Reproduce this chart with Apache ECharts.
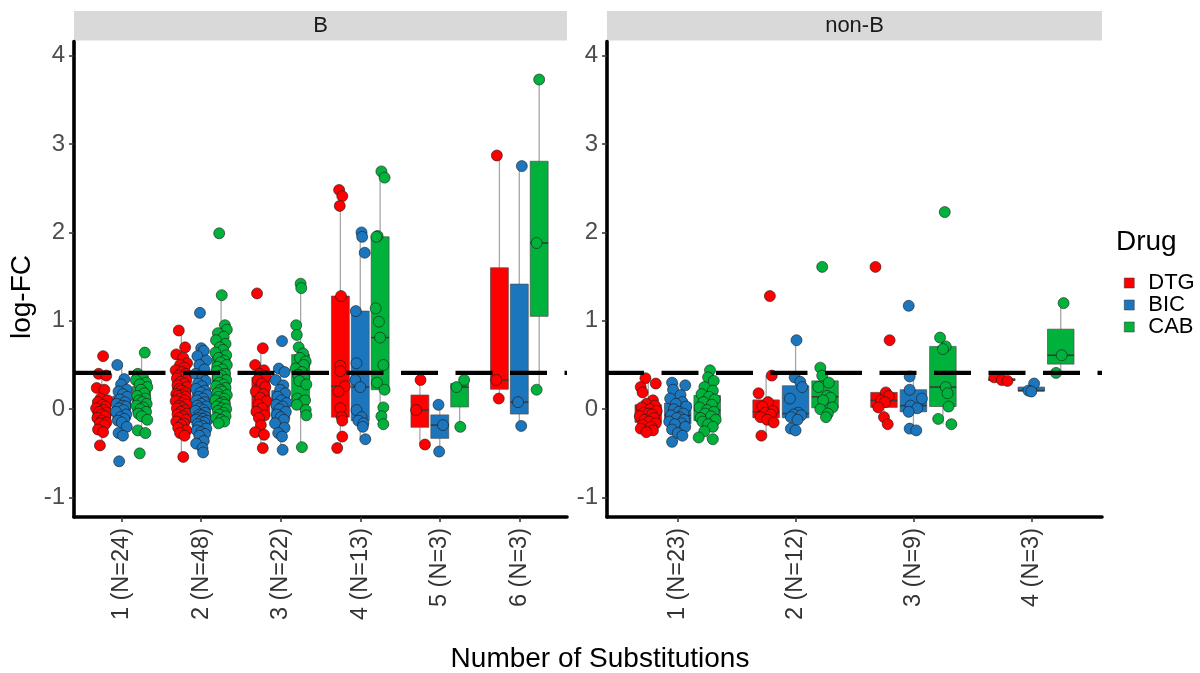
<!DOCTYPE html>
<html>
<head>
<meta charset="utf-8">
<script src="https://cdn.jsdelivr.net/npm/echarts@6.0.0/dist/echarts.min.js"></script>
<style>
html,body{margin:0;padding:0;background:#fff;}
#chart{width:1200px;height:673px;}
</style>
</head>
<body>
<div id="chart"></div>
<script>
// ---------------- data ----------------
const DRUGS = ['DTG', 'BIC', 'CAB'];
const COLORS = ['#FF0000', '#1C76BE', '#00B23C'];
const FACETS = ['B', 'non-B'];
const B_LABELS = ['1 (N=24)', '2 (N=48)', '3 (N=22)', '4 (N=13)', '5 (N=3)', '6 (N=3)'];
const NB_LABELS = ['1 (N=23)', '2 (N=12)', '3 (N=9)', '4 (N=3)'];
const Y_TICKS = [-1, 0, 1, 2, 3, 4];
const THRESHOLD = 0.41;
const X_TITLE = 'Number of Substitutions';
const Y_TITLE = 'log-FC';
const LEGEND_TITLE = 'Drug';

// log-FC values, facet B, per category
const BV_DTG = [
  [0.60,0.40,0.38,0.24,0.22,0.12,0.10,0.08,0.05,0.03,0.01,-0.01,-0.03,-0.04,-0.06,-0.08,-0.10,-0.13,-0.15,-0.16,-0.18,-0.23,-0.26,-0.41],
  [0.89,0.70,0.62,0.58,0.52,0.50,0.47,0.44,0.42,0.40,0.38,0.36,0.35,0.33,0.31,0.29,0.27,0.25,0.23,0.21,0.19,0.17,0.16,0.15,0.14,0.12,0.10,0.09,0.07,0.05,0.04,0.02,0.01,-0.01,-0.03,-0.05,-0.06,-0.08,-0.10,-0.12,-0.14,-0.16,-0.18,-0.21,-0.24,-0.27,-0.30,-0.54],
  [1.31,0.69,0.50,0.44,0.40,0.37,0.33,0.29,0.25,0.20,0.17,0.13,0.09,0.05,0.01,-0.03,-0.07,-0.10,-0.18,-0.26,-0.29,-0.44],
  [2.48,2.41,2.30,1.28,0.49,0.43,0.26,0.20,0.01,-0.09,-0.13,-0.31,-0.44],
  [0.33,-0.01,-0.40],
  [2.87,0.33,0.12]
];
const BV_BIC = [
  [0.50,0.34,0.28,0.22,0.20,0.17,0.14,0.11,0.08,0.06,0.04,0.03,0.01,-0.01,-0.03,-0.06,-0.09,-0.11,-0.13,-0.15,-0.20,-0.27,-0.30,-0.59],
  [1.09,0.69,0.66,0.60,0.55,0.50,0.45,0.40,0.36,0.32,0.29,0.26,0.23,0.21,0.19,0.16,0.14,0.12,0.10,0.08,0.06,0.04,0.03,0.01,-0.01,-0.02,-0.04,-0.06,-0.07,-0.09,-0.10,-0.11,-0.12,-0.13,-0.14,-0.15,-0.17,-0.19,-0.20,-0.22,-0.24,-0.26,-0.28,-0.30,-0.36,-0.39,-0.44,-0.49],
  [0.77,0.46,0.42,0.33,0.27,0.22,0.18,0.14,0.10,0.07,0.05,0.03,0.00,-0.03,-0.06,-0.09,-0.12,-0.16,-0.21,-0.27,-0.31,-0.46],
  [2.00,1.95,1.77,1.11,0.52,0.33,0.25,-0.01,-0.09,-0.13,-0.16,-0.20,-0.34],
  [0.05,-0.18,-0.48],
  [2.75,0.08,-0.19]
];
const BV_CAB = [
  [0.64,0.40,0.36,0.33,0.30,0.28,0.25,0.22,0.18,0.15,0.12,0.10,0.08,0.06,0.04,0.02,0.00,-0.03,-0.05,-0.08,-0.12,-0.24,-0.27,-0.50],
  [1.99,1.29,0.95,0.90,0.86,0.82,0.78,0.74,0.70,0.67,0.64,0.61,0.58,0.55,0.53,0.50,0.48,0.45,0.43,0.40,0.38,0.36,0.33,0.30,0.28,0.26,0.24,0.22,0.20,0.18,0.16,0.14,0.12,0.10,0.08,0.06,0.05,0.03,0.01,0.00,-0.02,-0.04,-0.06,-0.08,-0.10,-0.12,-0.14,-0.16],
  [1.42,1.37,0.95,0.84,0.70,0.63,0.58,0.54,0.50,0.46,0.42,0.39,0.36,0.32,0.28,0.12,0.08,0.10,0.05,-0.01,-0.07,-0.43],
  [2.69,2.62,1.96,1.95,1.14,0.99,0.81,0.50,0.30,0.22,0.02,-0.08,-0.17],
  [0.33,0.25,-0.20],
  [3.73,1.88,0.22]
];
// log-FC values, facet non-B, per category
const NV_DTG = [
  [0.35,0.29,0.25,0.19,0.10,0.06,0.04,0.02,0.00,-0.02,-0.04,-0.05,-0.06,-0.08,-0.10,-0.12,-0.14,-0.16,-0.18,-0.20,-0.22,-0.24,-0.26],
  [1.28,0.38,0.18,0.08,0.03,-0.02,-0.04,-0.06,-0.09,-0.12,-0.15,-0.30],
  [1.61,0.78,0.19,0.15,0.10,0.08,0.02,-0.09,-0.17],
  [0.36,0.33,0.32]
];
const NV_BIC = [
  [0.30,0.27,0.22,0.16,0.12,0.08,0.06,0.03,0.00,-0.03,-0.05,-0.07,-0.09,-0.10,-0.12,-0.14,-0.16,-0.17,-0.20,-0.23,-0.27,-0.30,-0.37],
  [0.78,0.36,0.31,0.25,0.12,-0.04,-0.06,-0.07,-0.09,-0.12,-0.22,-0.24],
  [1.17,0.37,0.22,0.12,0.04,0.01,-0.03,-0.22,-0.24],
  [0.29,0.21,0.20]
];
const NV_CAB = [
  [0.44,0.36,0.32,0.25,0.21,0.17,0.14,0.11,0.08,0.05,0.02,-0.01,-0.03,-0.05,-0.08,-0.10,-0.12,-0.14,-0.17,-0.20,-0.25,-0.32,-0.34],
  [1.61,0.47,0.38,0.30,0.25,0.15,0.13,0.10,0.02,0.00,-0.05,-0.09],
  [2.23,0.81,0.71,0.68,0.25,0.18,0.03,-0.11,-0.17],
  [1.20,0.61,0.41]
];

// horizontal jitter of each point (fraction of the jitter half-width)
const BJ_DTG = [
  [0.2,-0.5,0.7,-0.8,0.4,-0.2,0.9,-0.6,0.1,0.6,-0.9,0.3,-0.4,0.8,-0.1,0.5,-0.7,0.0,0.7,-0.3,0.4,-0.6,0.2,-0.3],
  [-0.4,0.6,-0.8,0.3,0.9,-0.2,0.5,-0.9,0.1,0.7,-0.5,0.2,-0.7,0.8,-0.1,0.4,-0.6,0.9,-0.3,0.0,0.6,-0.8,0.3,-0.5,0.7,-0.2,0.5,-0.9,0.2,0.8,-0.4,0.1,-0.7,0.6,-0.1,0.9,-0.6,0.3,-0.3,0.7,-0.8,0.4,0.0,-0.5,0.8,-0.2,0.5,0.3],
  [-0.6,0.3,-0.9,0.5,-0.2,0.8,-0.5,0.1,0.7,-0.8,0.4,-0.1,0.9,-0.4,0.2,-0.7,0.6,-0.3,0.0,-0.9,0.5,0.3],
  [-0.2,0.3,-0.1,0.1,0.0,0.0,0.7,-0.3,0.0,0.2,0.3,0.3,-0.5],
  [0.1,-0.6,0.8],
  [-0.4,-0.5,-0.1]
];
const BJ_BIC = [
  [-0.7,0.4,-0.1,0.8,-0.5,0.2,0.9,-0.3,0.5,-0.8,0.1,0.6,-0.4,0.3,-0.9,0.7,-0.2,0.4,-0.6,0.0,0.8,-0.5,0.2,-0.4],
  [-0.2,0.0,0.4,-0.6,0.8,-0.3,0.5,-0.9,0.2,0.7,-0.5,0.1,-0.8,0.6,-0.1,0.9,-0.4,0.3,-0.7,0.5,0.0,-0.6,0.8,-0.2,0.4,-0.9,0.6,-0.3,0.1,0.7,-0.5,0.3,-0.8,0.9,-0.1,0.5,-0.6,0.2,-0.4,0.8,-0.7,0.0,0.6,-0.3,0.4,-0.8,0.2,0.3],
  [0.2,-0.3,0.6,-0.8,0.4,-0.1,0.7,-0.5,0.1,0.9,-0.7,0.3,-0.2,0.8,-0.6,0.0,0.5,-0.9,0.6,-0.4,0.2,0.3],
  [0.2,0.3,0.7,-0.7,-0.6,-0.8,0.0,-0.6,0.2,-0.3,0.5,0.4,0.8],
  [-0.2,0.5,-0.1],
  [0.4,-0.2,0.3]
];
const BJ_CAB = [
  [0.5,-0.6,0.2,-0.9,0.7,-0.3,0.9,-0.1,0.4,-0.7,0.6,-0.4,0.1,0.8,-0.8,0.3,-0.2,0.7,-0.5,0.0,0.9,-0.6,0.6,-0.3],
  [-0.3,0.1,0.6,0.9,-0.5,0.4,-0.8,0.7,-0.2,0.3,-0.9,0.8,-0.4,0.5,-0.1,0.9,-0.6,0.2,-0.7,0.6,0.0,-0.5,0.8,-0.3,0.4,-0.8,0.7,-0.1,0.2,-0.6,0.9,-0.4,0.5,-0.9,0.3,-0.2,0.6,-0.7,0.1,0.8,-0.5,0.4,-0.3,0.7,-0.8,0.0,0.5,-0.4],
  [0.0,0.1,-0.7,-0.6,-0.3,0.4,-0.1,0.8,0.5,-0.8,0.2,-0.4,0.6,-0.2,0.9,-0.5,0.3,0.7,-0.6,0.8,0.9,0.2],
  [0.2,0.7,-0.4,-0.6,-0.7,-0.2,0.0,0.5,-0.5,0.7,0.5,0.2,0.5],
  [0.7,-0.5,0.1],
  [0.0,-0.4,-0.4]
];
const NJ_DTG = [
  [-0.3,0.8,-0.8,-0.6,0.5,-0.2,0.7,-0.7,0.2,0.9,-0.5,0.0,0.4,-0.9,0.6,-0.4,0.1,0.8,-0.6,0.3,-0.8,0.5,-0.2],
  [0.4,0.6,-0.8,0.2,-0.4,0.7,-0.1,0.5,-0.6,0.1,0.8,-0.5],
  [-0.9,0.6,0.2,0.5,-0.3,0.1,-0.6,0.0,0.4],
  [-0.8,0.0,0.6]
];
const NJ_BIC = [
  [-0.6,0.8,-0.5,0.3,-0.8,0.5,-0.2,0.9,-0.4,0.1,0.6,-0.7,0.2,-0.1,0.7,-0.9,0.4,-0.3,0.8,-0.6,0.0,0.5,-0.6],
  [0.1,-0.1,0.5,0.7,-0.6,0.3,-0.2,0.6,-0.5,0.2,-0.5,0.0],
  [-0.5,-0.4,-0.4,0.9,-0.3,0.4,-0.5,-0.4,0.3],
  [0.3,-0.3,0.0]
];
const NJ_CAB = [
  [0.3,0.1,0.7,-0.3,0.6,-0.6,0.2,0.8,-0.4,0.5,-0.8,0.0,0.7,-0.2,0.4,-0.7,0.9,-0.5,0.1,0.6,-0.3,-0.9,0.6],
  [-0.3,-0.5,-0.3,0.4,-0.7,0.2,0.6,-0.2,0.8,-0.5,0.3,0.1],
  [0.2,-0.3,0.3,0.0,0.3,0.5,0.6,-0.5,0.9],
  [0.3,0.1,-0.5]
];

// ---------------- layout / style ----------------
const FONT = '"Liberation Sans", Arial, sans-serif';
const Y_MIN = -1.22, Y_MAX = 4.16;
const DODGE = [-0.25, 0, 0.25];
const BOX_W = 0.225;
const JIT = 0.08;
const GRIDS = [
  {left: 74, top: 41.5, width: 493, height: 475.5},
  {left: 607, top: 41.5, width: 495, height: 475.5}
];
const PANELS = [
  {labels: B_LABELS, values: [BV_DTG, BV_BIC, BV_CAB], jitter: [BJ_DTG, BJ_BIC, BJ_CAB]},
  {labels: NB_LABELS, values: [NV_DTG, NV_BIC, NV_CAB], jitter: [NJ_DTG, NJ_BIC, NJ_CAB]}
];

function quantile(s, p) {
  const h = (s.length - 1) * p, lo = Math.floor(h), hi = Math.ceil(h);
  return s[lo] + (h - lo) * (s[hi] - s[lo]);
}
function boxStats(vals) {
  const s = vals.slice().sort((a, b) => a - b);
  const q1 = quantile(s, 0.25), med = quantile(s, 0.5), q3 = quantile(s, 0.75);
  const iqr = q3 - q1;
  const lo = s.find(v => v >= q1 - 1.5 * iqr);
  const hi = s.slice().reverse().find(v => v <= q3 + 1.5 * iqr);
  return [lo, q1, med, q3, hi];
}

function makeBoxRender(color) {
  return function (params, api) {
    const x = api.value(0);
    const lo = api.value(1), q1 = api.value(2), med = api.value(3), q3 = api.value(4), hi = api.value(5);
    const hw = BOX_W / 2;
    const tl = api.coord([x - hw, q3]);
    const br = api.coord([x + hw, q1]);
    const cHi = api.coord([x, hi]), cQ3 = api.coord([x, q3]);
    const cLo = api.coord([x, lo]), cQ1 = api.coord([x, q1]);
    const mL = api.coord([x - hw, med]), mR = api.coord([x + hw, med]);
    return {
      type: 'group',
      children: [
        {type: 'line', shape: {x1: cHi[0], y1: cHi[1], x2: cQ3[0], y2: cQ3[1]}, style: {stroke: '#A6A6A6', lineWidth: 1.3}},
        {type: 'line', shape: {x1: cLo[0], y1: cLo[1], x2: cQ1[0], y2: cQ1[1]}, style: {stroke: '#A6A6A6', lineWidth: 1.3}},
        {type: 'rect', shape: {x: tl[0], y: tl[1], width: br[0] - tl[0], height: Math.max(br[1] - tl[1], 0.5)},
          style: {fill: color, stroke: '#4D4D4D', lineWidth: 0.7}},
        {type: 'line', shape: {x1: mL[0], y1: mL[1], x2: mR[0], y2: mR[1]}, style: {stroke: '#3A3A3A', lineWidth: 1.6}}
      ]
    };
  };
}

const xAxes = [], yAxes = [], series = [];
PANELS.forEach((panel, p) => {
  const n = panel.labels.length;
  const cats = panel.labels.map((_, i) => i + 1);
  xAxes.push({
    gridIndex: p, type: 'value', min: 0.4, max: n + 0.6,
    axisLine: {show: true, onZero: false, lineStyle: {color: '#000', width: 3.6}},
    axisTick: {show: true, customValues: cats, length: 5, lineStyle: {color: '#333', width: 1.5}},
    axisLabel: {customValues: cats, formatter: v => panel.labels[Math.round(v) - 1], rotate: 90,
      fontSize: 23.5, color: '#333333', fontFamily: FONT, margin: 11},
    splitLine: {show: false}
  });
  yAxes.push({
    gridIndex: p, type: 'value', min: Y_MIN, max: Y_MAX,
    axisLine: {show: true, onZero: false, lineStyle: {color: '#000', width: 3.6}},
    axisTick: {show: true, customValues: Y_TICKS, length: 5, lineStyle: {color: '#333', width: 1.5}},
    axisLabel: {customValues: Y_TICKS, fontSize: 24, color: '#4D4D4D', fontFamily: FONT, margin: 9},
    splitLine: {show: false}
  });
  DRUGS.forEach((drug, d) => {
    const vals = panel.values[d];
    const jit = panel.jitter[d];
    series.push({
      type: 'custom', name: drug, xAxisIndex: p, yAxisIndex: p, z: 2, silent: true,
      renderItem: makeBoxRender(COLORS[d]),
      encode: {x: 0, y: [1, 2, 3, 4, 5]},
      data: vals.map((v, i) => [i + 1 + DODGE[d]].concat(boxStats(v)))
    });
    const pts = [];
    vals.forEach((v, i) => v.forEach((y, k) => pts.push([i + 1 + DODGE[d] + jit[i][k] * JIT, y])));
    series.push({
      type: 'scatter', name: drug, xAxisIndex: p, yAxisIndex: p, z: 3, silent: true,
      symbol: 'circle', symbolSize: 11,
      itemStyle: {color: COLORS[d], borderColor: '#1A1A1A', borderWidth: 0.6, opacity: 1},
      data: pts
    });
  });
  series.push({
    type: 'line', xAxisIndex: p, yAxisIndex: p, z: 5, silent: true, symbol: 'none',
    lineStyle: {color: '#000', width: 4.2, type: [37, 17.5], cap: 'butt'},
    data: [[0.4, THRESHOLD], [n + 0.6, THRESHOLD]]
  });
});

const txt = (x, y, text, size, extra) => Object.assign({
  type: 'text', x: x, y: y, silent: true,
  style: {text: text, font: size + 'px ' + FONT, fill: '#000', align: 'center', verticalAlign: 'middle',
    textAlign: 'center', textVerticalAlign: 'middle'}
}, extra || {});

const graphics = [];
GRIDS.forEach((g, p) => {
  graphics.push({type: 'rect', silent: true, shape: {x: g.left, y: 11, width: g.width, height: 29.5},
    style: {fill: '#D9D9D9'}});
  graphics.push(txt(g.left + g.width / 2, 26, FACETS[p], 22, {style: {text: FACETS[p], font: '22px ' + FONT,
    fill: '#1A1A1A', align: 'center', verticalAlign: 'middle', textAlign: 'center', textVerticalAlign: 'middle'}}));
});
graphics.push(txt(22, 297, Y_TITLE, 28, {rotation: Math.PI / 2}));
graphics.push(txt(600, 659, X_TITLE, 28));
graphics.push({type: 'text', x: 1116, y: 242, silent: true,
  style: {text: LEGEND_TITLE, font: '28px ' + FONT, fill: '#000', align: 'left', verticalAlign: 'middle',
    textAlign: 'left', textVerticalAlign: 'middle'}});

const chart = echarts.init(document.getElementById('chart'), null, {renderer: 'canvas'});
chart.setOption({
  animation: false,
  backgroundColor: '#fff',
  grid: GRIDS.map(g => Object.assign({containLabel: false}, g)),
  xAxis: xAxes,
  yAxis: yAxes,
  legend: {
    orient: 'vertical', left: 1119, top: 267, icon: 'rect', itemWidth: 10, itemHeight: 10, itemGap: 0,
    selectedMode: false,
    textStyle: {fontSize: 22, fontFamily: FONT, color: '#000', lineHeight: 20, padding: [0, 0, 0, 9]},
    data: DRUGS.map((d, i) => ({name: d, itemStyle: {color: COLORS[i], borderColor: '#333', borderWidth: 0.5}}))
  },
  graphic: graphics,
  series: series
});
</script>
</body>
</html>
